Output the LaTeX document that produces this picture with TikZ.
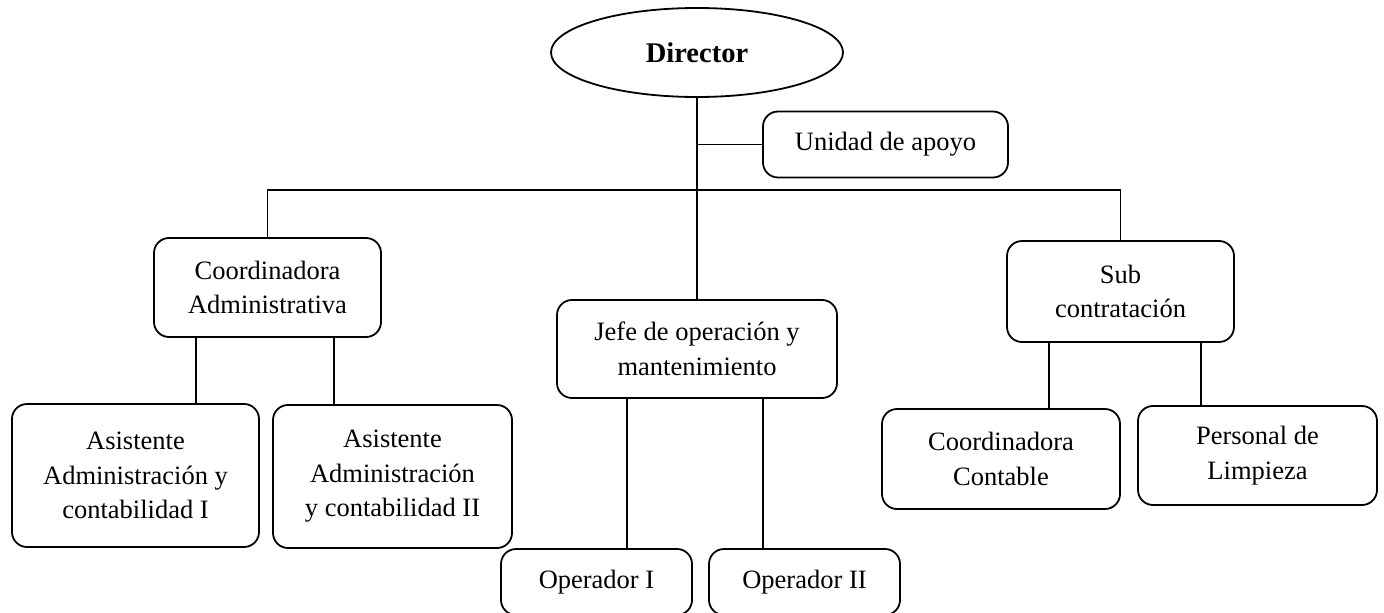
\documentclass[tikz,border=0pt]{standalone}
\usepackage{fontspec}
\setmainfont{Liberation Serif}
\usetikzlibrary{shapes.geometric}
\tikzset{
  orgbox/.style={draw, rounded corners=15pt, line width=1.8pt, align=center, inner sep=0pt,
    font=\fontsize{26.5}{34.5}\selectfont},
  conn/.style={line width=1.8pt},
}
\begin{document}
\begin{tikzpicture}[x=1pt,y=-1pt]
\useasboundingbox (0,0) rectangle (1384,613);
\clip (0,0) rectangle (1384,613);
\node[draw, ellipse, line width=1.8pt, minimum width=292pt, minimum height=89pt, inner sep=0pt,
  font=\fontsize{28.5}{33}\selectfont\bfseries] (dir) at (697,52.5) {Director};
\node[orgbox, minimum width=245pt, minimum height=66pt] (uni) at (885.5,144.5) {Unidad de apoyo};
\node[orgbox, minimum width=227pt, minimum height=99pt] (coa) at (267.5,287.5) {Coordinadora\\Administrativa};
\node[orgbox, minimum width=280pt, minimum height=98pt] (jefe) at (697,349) {Jefe de operación y\\mantenimiento};
\node[orgbox, minimum width=227pt, minimum height=101pt] (sub) at (1120.5,291.5) {Sub\\contratación};
\node[orgbox, minimum width=247pt, minimum height=143pt] (as1) at (135.5,475.5) {Asistente\\Administración y\\contabilidad I};
\node[orgbox, minimum width=239pt, minimum height=143pt] (as2) at (392.5,476.5) {Asistente\\Administración\\y contabilidad II};
\node[orgbox, minimum width=191pt, minimum height=66pt] (op1) at (596.5,582) {Operador I};
\node[orgbox, minimum width=191pt, minimum height=66pt] (op2) at (804.5,582) {Operador II};
\node[orgbox, minimum width=238pt, minimum height=100pt] (cc) at (1001,459) {Coordinadora\\Contable};
\node[orgbox, minimum width=239pt, minimum height=99pt] (pl) at (1257.5,455.5) {Personal de\\Limpieza};
% main trunk
\draw[conn] (dir.south) -- (jefe.north);
\draw[conn] (uni.west) -- (uni.west -| dir.south);
\coordinate (bar) at (697,190);
\draw[conn] (coa.north) |- (bar) -| (sub.north);
% sub-branches
\coordinate (c1) at ([xshift=-71.5pt]coa.south);
\coordinate (c2) at ([xshift=66.5pt]coa.south);
\draw[conn] (c1) -- (c1 |- as1.north);
\draw[conn] (c2) -- (c2 |- as2.north);
\coordinate (j1) at ([xshift=-70pt]jefe.south);
\coordinate (j2) at ([xshift=66pt]jefe.south);
\draw[conn] (j1) -- (j1 |- op1.north);
\draw[conn] (j2) -- (j2 |- op2.north);
\coordinate (s1) at ([xshift=-71.5pt]sub.south);
\coordinate (s2) at ([xshift=80.5pt]sub.south);
\draw[conn] (s1) -- (s1 |- cc.north);
\draw[conn] (s2) -- (s2 |- pl.north);
\end{tikzpicture}
\end{document}
